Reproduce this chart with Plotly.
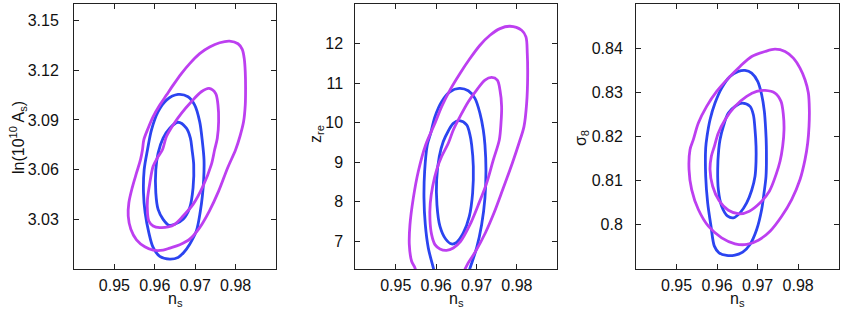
import plotly.graph_objects as go

# ---------------- data ----------------
# Panel 1: n_s vs ln(10^10 A_s)
p1_blue_outer_ns = [0.96576, 0.96823, 0.96988, 0.97111, 0.97177, 0.97218, 0.97210, 0.97177, 0.97128, 0.97029,
                    0.96864, 0.96716, 0.96576, 0.96370, 0.96123, 0.95959, 0.95852, 0.95761, 0.95720, 0.95737,
                    0.95819, 0.95918, 0.96082, 0.96288]
p1_blue_outer_y = [3.1054, 3.104, 3.099, 3.089, 3.077, 3.066, 3.054, 3.044, 3.035, 3.023,
                   3.015, 3.010, 3.007, 3.006, 3.0076, 3.013, 3.022, 3.034, 3.046, 3.060,
                   3.072, 3.084, 3.095, 3.102]
p1_blue_inner_ns = [0.96576, 0.96782, 0.96881, 0.96922, 0.96963, 0.96947, 0.96864, 0.96700, 0.96494, 0.96354,
                    0.96206, 0.96082, 0.96025, 0.96025, 0.96082, 0.96206, 0.96370]
p1_blue_inner_y = [3.0886, 3.085, 3.079, 3.072, 3.063, 3.049, 3.037, 3.030, 3.027, 3.0264,
                   3.030, 3.036, 3.046, 3.060, 3.070, 3.079, 3.085]
p1_mag_outer_ns = [0.9785, 0.9806, 0.98165, 0.98214, 0.98239, 0.98247, 0.98239, 0.98198, 0.98107, 0.9800,
                   0.97802, 0.9758, 0.9735, 0.97111, 0.96864, 0.96617, 0.96370, 0.96206, 0.95959, 0.95753,
                   0.95547, 0.95407, 0.95342, 0.95358, 0.95440, 0.95547, 0.95646, 0.95695, 0.95728, 0.95835,
                   0.95959, 0.96123, 0.96288, 0.96453, 0.96658, 0.96864, 0.97111, 0.97358, 0.97605]
p1_mag_outer_y = [3.1376, 3.136, 3.1326, 3.127, 3.119, 3.109, 3.099, 3.089, 3.080, 3.072,
                  3.061, 3.047, 3.035, 3.025, 3.018, 3.0146, 3.0126, 3.0114, 3.0114, 3.0134,
                  3.0176, 3.024, 3.032, 3.040, 3.049, 3.058, 3.066, 3.072, 3.078, 3.085,
                  3.092, 3.099, 3.105, 3.111, 3.118, 3.124, 3.130, 3.134, 3.1366]
p1_mag_inner_ns = [0.97342, 0.97506, 0.97564, 0.97580, 0.97547, 0.97481, 0.97399, 0.97193, 0.96947, 0.96700,
                   0.96494, 0.96329, 0.96123, 0.95959, 0.95852, 0.95819, 0.95819, 0.95877, 0.95959, 0.96074,
                   0.96189, 0.96288, 0.96453, 0.96658, 0.96905, 0.97152]
p1_mag_inner_y = [3.109, 3.106, 3.099, 3.089, 3.079, 3.072, 3.063, 3.050, 3.039, 3.032,
                  3.027, 3.0254, 3.025, 3.026, 3.029, 3.034, 3.042, 3.052, 3.062, 3.0676,
                  3.072, 3.080, 3.087, 3.094, 3.101, 3.107]

# Panel 2: n_s vs z_re (curves run past the lower edge of the axes)
p2_blue_outer_ns = [0.95980, 0.95931, 0.95807, 0.95733, 0.95700, 0.95716, 0.95782, 0.95865, 0.95972, 0.96137,
                    0.96343, 0.96574, 0.96797, 0.96962, 0.97086, 0.97168, 0.97209, 0.97234, 0.97209, 0.97127,
                    0.97003, 0.96855, 0.96772]
p2_blue_outer_y = [6.118, 6.328, 6.832, 7.42, 8.092, 8.765, 9.437, 9.731, 10.151, 10.529,
                   10.782, 10.866, 10.807, 10.613, 10.235, 9.815, 9.437, 8.807, 8.092, 7.42,
                   6.832, 6.37, 6.118]
p2_blue_inner_ns = [0.96574, 0.96756, 0.96838, 0.96880, 0.96921, 0.96904, 0.96822, 0.96673, 0.96508, 0.96384,
                    0.96236, 0.96096, 0.96021, 0.96013, 0.96079, 0.96178, 0.96302, 0.96426]
p2_blue_inner_y = [10.05, 9.941, 9.689, 9.437, 8.891, 8.218, 7.63, 7.21, 6.975, 6.933,
                   7.059, 7.378, 7.924, 8.555, 9.143, 9.521, 9.79, 9.983]
p2_mag_outer_ns = [0.95535, 0.95477, 0.95394, 0.95337, 0.95353, 0.95436, 0.95559, 0.95741, 0.95972, 0.96137,
                   0.96343, 0.96591, 0.96838, 0.97086, 0.97333, 0.97581, 0.97828, 0.98117, 0.98224, 0.98257,
                   0.98266, 0.98241, 0.98175, 0.98051, 0.97886, 0.97647, 0.97432, 0.97218, 0.96979, 0.96772,
                   0.96673]
p2_mag_outer_y = [6.118, 6.328, 6.496, 6.916, 7.42, 8.092, 8.765, 9.437, 9.983, 10.403,
                  10.824, 11.244, 11.622, 11.958, 12.21, 12.378, 12.437, 12.336, 12.168, 11.748,
                  11.16, 10.487, 9.899, 9.479, 8.975, 8.303, 7.714, 7.21, 6.748, 6.412,
                  6.202]
p2_mag_inner_ns = [0.97375, 0.97515, 0.97581, 0.97622, 0.97606, 0.97564, 0.97416, 0.97251, 0.97045, 0.96838,
                   0.96607, 0.96426, 0.96261, 0.96096, 0.95972, 0.95889, 0.95848, 0.95856, 0.95914, 0.96013,
                   0.96137, 0.96302, 0.96426, 0.96591, 0.96797, 0.97003, 0.97210]
p2_mag_inner_y = [11.143, 11.076, 10.824, 10.403, 9.983, 9.563, 9.059, 8.471, 7.924, 7.42,
                  7.0, 6.832, 6.773, 6.807, 6.916, 7.168, 7.546, 7.966, 8.387, 8.807,
                  9.143, 9.479, 9.815, 10.151, 10.529, 10.824, 11.076]

# Panel 3: n_s vs sigma_8
p3_blue_outer_ns = [0.96689, 0.96854, 0.97002, 0.97100, 0.97166, 0.97199, 0.97215, 0.97207, 0.97158, 0.97100,
                    0.96977, 0.96812, 0.96632, 0.96442, 0.96237, 0.96048, 0.95933, 0.95850, 0.95768, 0.95719,
                    0.95719, 0.95752, 0.95826, 0.95949, 0.96113, 0.96319, 0.96525]
p3_blue_outer_y = [0.83495, 0.83435, 0.83247, 0.82945, 0.82569, 0.82154, 0.81778, 0.81100, 0.80723, 0.80347,
                   0.79895, 0.79556, 0.79382, 0.79315, 0.79307, 0.79367, 0.79518, 0.79970, 0.80497, 0.81100,
                   0.81740, 0.82004, 0.82380, 0.82757, 0.83096, 0.83360, 0.83473]
p3_blue_inner_ns = [0.96623, 0.96813, 0.96895, 0.96936, 0.96961, 0.96961, 0.96936, 0.96854, 0.96730, 0.96566,
                    0.96401, 0.96262, 0.96113, 0.96031, 0.96015, 0.96040, 0.96072, 0.96155, 0.96278, 0.96467]
p3_blue_inner_y = [0.82757, 0.82682, 0.82493, 0.82154, 0.81778, 0.81439, 0.81100, 0.80783, 0.80497, 0.80271,
                   0.80158, 0.80196, 0.80422, 0.80798, 0.81250, 0.81702, 0.81928, 0.82230, 0.82531, 0.82697]
p3_mag_outer_ns = [0.97429, 0.97676, 0.97882, 0.98046, 0.98169, 0.98252, 0.98276, 0.98268, 0.98235, 0.98169,
                   0.98046, 0.97840, 0.97594, 0.97306, 0.97018, 0.96730, 0.96442, 0.96113, 0.95785, 0.95538,
                   0.95373, 0.95308, 0.95332, 0.95414, 0.95538, 0.95743, 0.95990, 0.96278, 0.96566, 0.96854,
                   0.97183]
p3_mag_outer_y = [0.83977, 0.83925, 0.83774, 0.83548, 0.83284, 0.82983, 0.82606, 0.82230, 0.81853, 0.81476,
                  0.81025, 0.80573, 0.80196, 0.79857, 0.79653, 0.79556, 0.79571, 0.79706, 0.79970, 0.80347,
                  0.80798, 0.81250, 0.81702, 0.81928, 0.82305, 0.82682, 0.83021, 0.83322, 0.83586, 0.83812,
                  0.83925]
p3_mag_inner_ns = [0.97183, 0.97429, 0.97577, 0.97635, 0.97651, 0.97618, 0.97553, 0.97454, 0.97289, 0.97043,
                   0.96796, 0.96549, 0.96278, 0.96048, 0.95891, 0.95826, 0.95859, 0.95933, 0.96031, 0.96196,
                   0.96442, 0.96730, 0.96977]
p3_mag_inner_y = [0.83043, 0.82983, 0.82795, 0.82493, 0.82154, 0.81778, 0.81439, 0.81137, 0.80761, 0.80482,
                  0.80309, 0.80249, 0.80331, 0.80550, 0.80874, 0.81250, 0.81552, 0.81778, 0.82079, 0.82380,
                  0.82682, 0.82908, 0.83021]

x_tickvals = [0.95, 0.96, 0.97, 0.98]
x_ticktext = ["0.95", "0.96", "0.97", "0.98"]
p1_tickvals = [3.03, 3.06, 3.09, 3.12, 3.15]
p1_ticktext = ["3.03", "3.06", "3.09", "3.12", "3.15"]
p2_tickvals = [7, 8, 9, 10, 11, 12]
p2_ticktext = ["7", "8", "9", "10", "11", "12"]
p3_tickvals = [0.80, 0.81, 0.82, 0.83, 0.84]
p3_ticktext = ["0.8", "0.81", "0.82", "0.83", "0.84"]

# ---------------- styling ----------------
W, H = 843, 313
BLUE = "#2b44f0"
MAGENTA = "#bd3ff0"
LW = 2.8
FONT = "Liberation Sans, Arial, sans-serif"

fig = go.Figure()


def closed(xs, ys):
    return list(xs) + [xs[0]], list(ys) + [ys[0]]


curves = [
    (1, p1_blue_outer_ns, p1_blue_outer_y, BLUE, True),
    (1, p1_blue_inner_ns, p1_blue_inner_y, BLUE, True),
    (1, p1_mag_outer_ns, p1_mag_outer_y, MAGENTA, True),
    (1, p1_mag_inner_ns, p1_mag_inner_y, MAGENTA, True),
    (2, p2_blue_outer_ns, p2_blue_outer_y, BLUE, False),
    (2, p2_blue_inner_ns, p2_blue_inner_y, BLUE, True),
    (2, p2_mag_outer_ns, p2_mag_outer_y, MAGENTA, False),
    (2, p2_mag_inner_ns, p2_mag_inner_y, MAGENTA, True),
    (3, p3_blue_outer_ns, p3_blue_outer_y, BLUE, True),
    (3, p3_blue_inner_ns, p3_blue_inner_y, BLUE, True),
    (3, p3_mag_outer_ns, p3_mag_outer_y, MAGENTA, True),
    (3, p3_mag_inner_ns, p3_mag_inner_y, MAGENTA, True),
]

for k, xs, ys, col, is_closed in curves:
    if is_closed:
        xs, ys = closed(xs, ys)
    sfx = "" if k == 1 else str(k)
    fig.add_trace(go.Scatter(
        x=xs, y=ys, mode="lines",
        line=dict(color=col, width=LW, shape="spline", smoothing=0.9),
        xaxis="x" + sfx, yaxis="y" + sfx, showlegend=False, hoverinfo="skip",
    ))

# pixel geometry of the three axes boxes
left_px = [74, 355.3, 636]
right_px = [276, 557.3, 838.7]
TOP, BOT = 4, 269

axis_common = dict(
    showline=True, linecolor="#222", linewidth=1, mirror="allticks",
    ticks="inside", ticklen=5, tickwidth=1, tickcolor="#222",
    showgrid=False, zeroline=False, automargin=False,
    tickfont=dict(family=FONT, size=16, color="#111"),
)

y_ranges = [[3.0, 3.16], [6.3, 13.0], [0.79, 0.85]]
y_ticks = [(p1_tickvals, p1_ticktext), (p2_tickvals, p2_ticktext), (p3_tickvals, p3_ticktext)]
y_standoff = [11, 8, 9]

layout = dict(
    width=W, height=H,
    margin=dict(l=0, r=0, t=TOP, b=H - BOT),
    paper_bgcolor="white", plot_bgcolor="white",
    font=dict(family=FONT, size=16, color="#111"),
)
for i in range(3):
    sfx = "" if i == 0 else str(i + 1)
    layout["xaxis" + sfx] = dict(
        axis_common, domain=[left_px[i] / W, right_px[i] / W], range=[0.94, 0.99],
        tickvals=x_tickvals, ticktext=x_ticktext, anchor="y" + sfx, ticklabelstandoff=2,
    )
    layout["yaxis" + sfx] = dict(
        axis_common, domain=[0, 1], range=y_ranges[i],
        tickvals=y_ticks[i][0], ticktext=y_ticks[i][1], anchor="x" + sfx,
        ticklabelstandoff=y_standoff[i],
    )
fig.update_layout(**layout)

plot_h = BOT - TOP


def py2paper(py):
    return (BOT - py) / plot_h


annotations = []
for i in range(3):
    cx = (left_px[i] + right_px[i]) / 2 / W
    annotations.append(dict(
        text="n<sub>s</sub>", x=cx, y=py2paper(299), xref="paper", yref="paper",
        xanchor="center", yanchor="middle", showarrow=False,
        font=dict(family=FONT, size=16, color="#111"),
    ))
ytitles = [("ln(10<sup>10</sup> A<sub>s</sub>)", 18, 138), ("z<sub>re</sub>", 316, 134), ("σ<sub>8</sub>", 581, 138)]
for txt, px, py in ytitles:
    annotations.append(dict(
        text=txt, x=px / W, y=py2paper(py), xref="paper", yref="paper",
        xanchor="center", yanchor="middle", showarrow=False, textangle=-90,
        font=dict(family=FONT, size=16, color="#111"),
    ))
fig.update_layout(annotations=annotations)

fig.write_html(
    "out.html",
    config={"displayModeBar": False},
    post_script="document.body.style.margin='0px';document.body.style.overflow='hidden';",
)
